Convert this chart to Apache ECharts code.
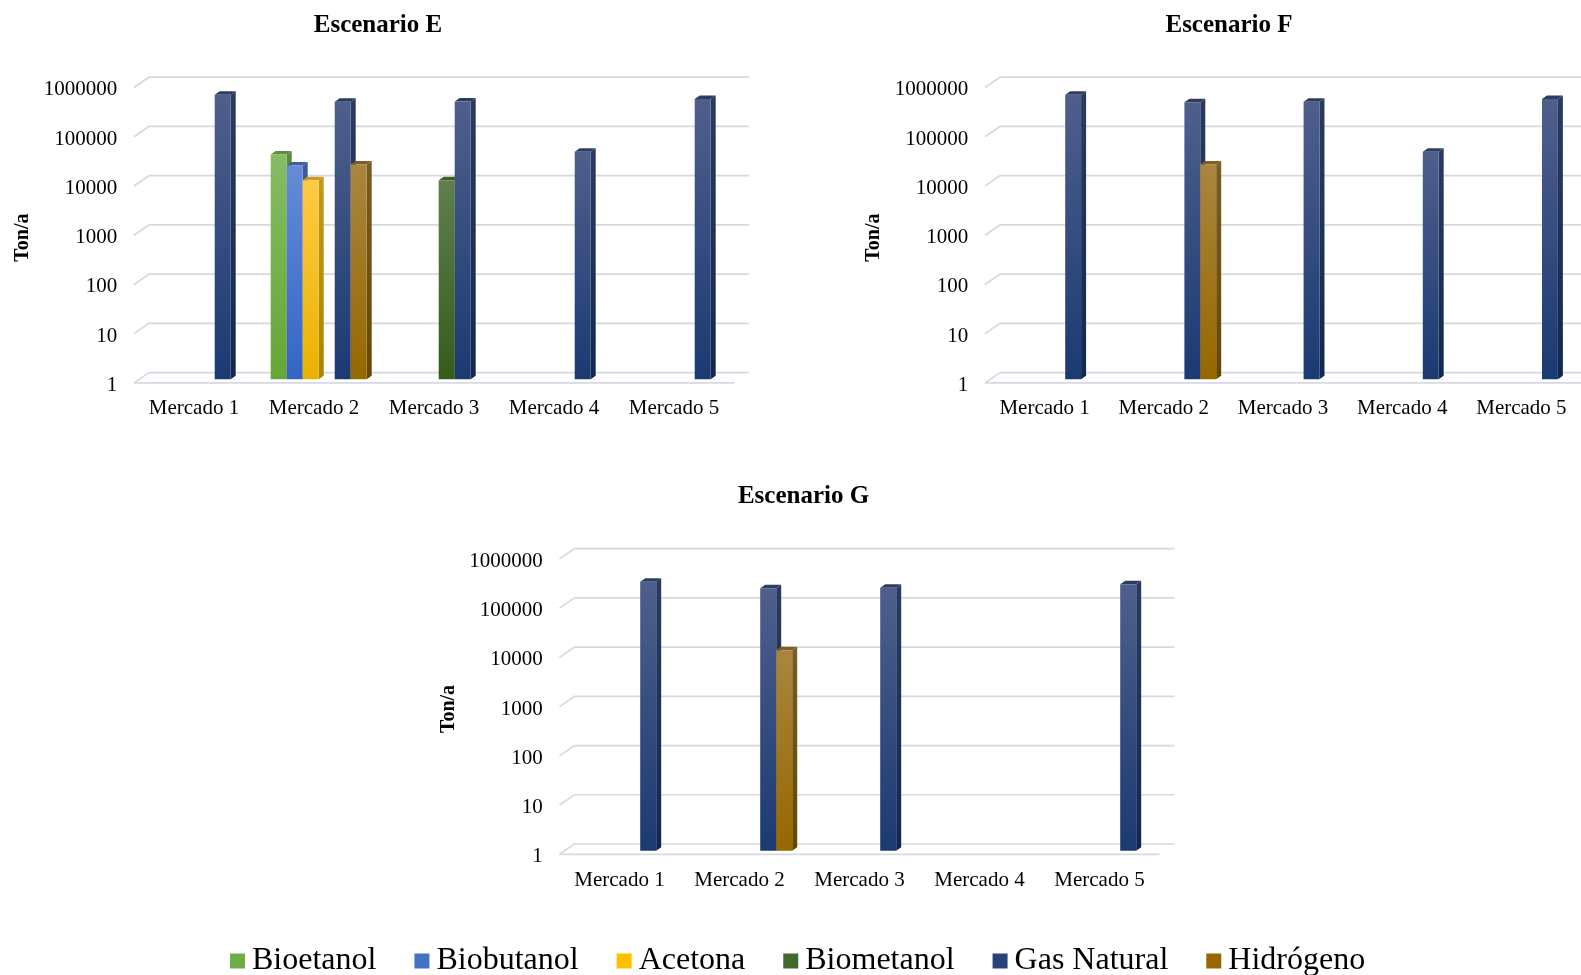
<!DOCTYPE html>
<html>
<head>
<meta charset="utf-8">
<title>Escenarios E, F y G</title>
<script src="https://cdn.jsdelivr.net/npm/echarts@6/dist/echarts.min.js"></script>
<style>
  html, body { margin: 0; padding: 0; background: #ffffff; }
  #chart { width: 1581px; height: 975px; }
</style>
</head>
<body>
<div id="chart"></div>
<script>
// Categories, series names and tick values
const categories = ['Mercado 1', 'Mercado 2', 'Mercado 3', 'Mercado 4', 'Mercado 5'];
const fuels = ['Bioetanol', 'Biobutanol', 'Acetona', 'Biometanol', 'Gas Natural', 'Hidrógeno'];
const yTicks = [1, 10, 100, 1000, 10000, 100000, 1000000];
const scenarioTitles = ['Escenario E', 'Escenario F', 'Escenario G'];

// Ton/a per fuel (rows follow `fuels`), per market (columns follow `categories`)
const valuesE = [
  [null, 37000, null, null, null],
  [null, 22000, null, null, null],
  [null, 11000, null, null, null],
  [null, null, 11000, null, null],
  [600000, 435000, 440000, 42000, 495000],
  [null, 23000, null, null, null]
];
const valuesF = [
  [null, null, null, null, null],
  [null, null, null, null, null],
  [null, null, null, null, null],
  [null, null, null, null, null],
  [600000, 425000, 435000, 42000, 495000],
  [null, 23000, null, null, null]
];
const valuesG = [
  [null, null, null, null, null],
  [null, null, null, null, null],
  [null, null, null, null, null],
  [null, null, null, null, null],
  [290000, 214000, 220000, null, 258000],
  [null, 11800, null, null, null]
];
const scenarioValues = [valuesE, valuesF, valuesG];

// Flat colours (legend) and shaded faces of the 3D bars
const legendColors = ['#70ad47', '#4472c4', '#ffc000', '#43682b', '#28427a', '#996600'];
const faceTop    = ['#86bc64', '#668bd6', '#ffca45', '#5f7f4e', '#4f5f8c', '#a9853f'];
const faceBottom = ['#66a636', '#3366c4', '#e9b200', '#355c1c', '#1b3a72', '#966800'];
const sideTop    = ['#5b8a3c', '#3d5c9c', '#c5971c', '#3f5a2e', '#2c3a5f', '#7a5c24'];
const sideBottom = ['#4a7a26', '#2b4f92', '#a98400', '#2a4514', '#13284f', '#664600'];
const lidColor   = ['#5e8f3e', '#40609f', '#c99a1e', '#425d30', '#2e3c62', '#7d5f26'];

// Plot rectangles (bar plane) for the three panels
const panels = [
  { left: 134,   top: 83.9,  width: 600, height: 295.4, titleX: 378,   titleY: 13 },
  { left: 985,   top: 83.9,  width: 600, height: 295.4, titleX: 1229,  titleY: 13 },
  { left: 559.5, top: 555.3, width: 600, height: 295.4, titleX: 803.5, titleY: 484 }
];

// Perspective of the back wall and of the bars
const WALL_DX = 15, WALL_BACK = 6.7, WALL_FRONT = 3.6;
const BAR_SHIFT = 4.7, BAR_DX = 5, BAR_DY = 3.5;

const serifFont = '"Liberation Serif", "Times New Roman", serif';

function vGrad(c0, c1) {
  return { type: 'linear', x: 0, y: 0, x2: 0, y2: 1,
           colorStops: [{ offset: 0, color: c0 }, { offset: 1, color: c1 }] };
}

// Back-wall gridlines with the slanted left edge, plus the floor line
function wallSeries(gi) {
  return {
    type: 'custom', xAxisIndex: gi, yAxisIndex: gi, silent: true, z: 1, clip: false,
    encode: { x: 0, y: 1 },
    data: yTicks.map(v => [0, v]),
    renderItem(params, api) {
      const cs = params.coordSys;
      const y = api.coord([0, api.value(1)])[1];
      const style = { stroke: '#d6d9e3', lineWidth: 1.7, fill: null };
      const children = [{
        type: 'polyline',
        shape: { points: [[cs.x, y + WALL_FRONT], [cs.x + WALL_DX, y - WALL_BACK], [cs.x + WALL_DX + cs.width, y - WALL_BACK]] },
        style
      }];
      if (api.value(1) === yTicks[0]) {
        children.push({
          type: 'line',
          shape: { x1: cs.x, y1: y + WALL_FRONT, x2: cs.x + cs.width, y2: y + WALL_FRONT },
          style
        });
      }
      return { type: 'group', children };
    }
  };
}

// 3D-looking bar: front face, right side face and lid
function barSeries(gi, k) {
  const vals = scenarioValues[gi][k];
  const data = [];
  vals.forEach((v, i) => { if (v != null) data.push([i, v]); });
  return {
    type: 'custom', name: fuels[k], xAxisIndex: gi, yAxisIndex: gi, z: 2, clip: false,
    itemStyle: { color: legendColors[k] },
    encode: { x: 0, y: 1 },
    data,
    renderItem(params, api) {
      const cat = api.value(0);
      const topPt = api.coord([cat, api.value(1)]);
      const basePt = api.coord([cat, yTicks[0]]);
      const bandW = api.size([1, 0])[0];
      const slotW = bandW * 0.8 / fuels.length;
      const x0 = topPt[0] + BAR_SHIFT - slotW * fuels.length / 2 + k * slotW;
      const x1 = x0 + slotW;
      const yt = topPt[1], yb = basePt[1];
      return {
        type: 'group',
        children: [
          { type: 'polygon',
            shape: { points: [[x1, yt], [x1 + BAR_DX, yt - BAR_DY], [x1 + BAR_DX, yb - BAR_DY], [x1, yb]] },
            style: { fill: vGrad(sideTop[k], sideBottom[k]) } },
          { type: 'polygon',
            shape: { points: [[x0, yt], [x0 + BAR_DX, yt - BAR_DY], [x1 + BAR_DX, yt - BAR_DY], [x1, yt]] },
            style: { fill: lidColor[k] } },
          { type: 'rect',
            shape: { x: x0, y: yt, width: slotW, height: yb - yt },
            style: { fill: vGrad(faceTop[k], faceBottom[k]) } }
        ]
      };
    }
  };
}

const grids = panels.map(p => ({ left: p.left, top: p.top, width: p.width, height: p.height }));

const xAxes = panels.map((p, gi) => ({
  type: 'category', gridIndex: gi, data: categories, boundaryGap: true,
  axisLine: { show: false }, axisTick: { show: false }, splitLine: { show: false },
  axisLabel: { color: '#000', fontFamily: serifFont, fontSize: 21, margin: 19, lineHeight: 21, interval: 0 }
}));

// Tick labels sit on the front edge of the wall, a few pixels below the bar plane
const yAxes = panels.map((p, gi) => ({
  type: 'log', logBase: 10, gridIndex: gi, min: yTicks[0], max: yTicks[yTicks.length - 1],
  axisLine: { show: false }, axisTick: { show: false }, splitLine: { show: false },
  axisLabel: {
    margin: 16.7,
    formatter: v => '{t|' + Math.round(v) + '}',
    rich: { t: { color: '#000', fontFamily: serifFont, fontSize: 21, lineHeight: 21, padding: [12, 0, 0, 0] } }
  },
  name: 'Ton/a', nameLocation: 'middle', nameRotate: 90, nameGap: 101,
  nameTextStyle: {
    color: '#000', fontFamily: serifFont, fontWeight: 'bold',
    fontSize: 20, lineHeight: 20, padding: [0, 12, 0, 0]
  }
}));

const series = [];
panels.forEach((p, gi) => {
  series.push(wallSeries(gi));
  fuels.forEach((f, k) => series.push(barSeries(gi, k)));
});

const option = {
  backgroundColor: '#ffffff',
  animation: false,
  title: panels.map((p, gi) => ({
    text: scenarioTitles[gi], left: p.titleX, top: p.titleY, textAlign: 'center', padding: 0,
    textStyle: { color: '#000', fontFamily: serifFont, fontSize: 25, fontWeight: 'bold', lineHeight: 26 }
  })),
  legend: {
    data: fuels, left: 230, top: 945, padding: 0, itemGap: 38,
    icon: 'rect', itemWidth: 15, itemHeight: 15,
    textStyle: { color: '#000', fontFamily: serifFont, fontSize: 32, lineHeight: 32, padding: [0, 0, 0, 2] }
  },
  grid: grids,
  xAxis: xAxes,
  yAxis: yAxes,
  series
};

const chart = echarts.init(document.getElementById('chart'), null, { renderer: 'canvas' });
chart.setOption(option);
</script>
</body>
</html>
